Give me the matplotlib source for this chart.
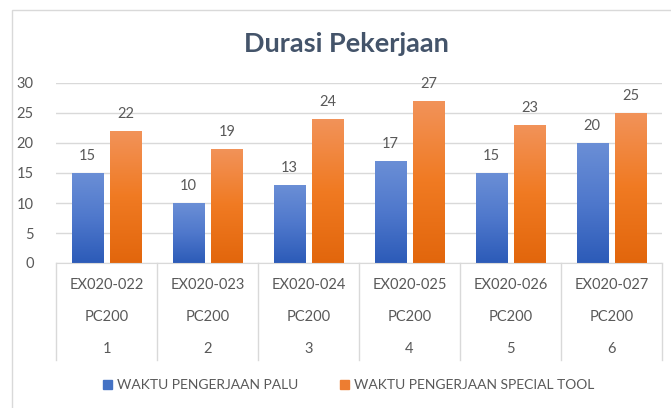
import matplotlib
matplotlib.use("Agg")
import matplotlib.pyplot as plt
import numpy as np
from matplotlib.patches import Rectangle, Patch
from matplotlib.colors import LinearSegmentedColormap
import matplotlib.transforms as mtransforms

codes = ["EX020-022", "EX020-023", "EX020-024", "EX020-025", "EX020-026", "EX020-027"]
models = ["PC200"] * 6
numbers = ["1", "2", "3", "4", "5", "6"]
palu = [15, 10, 13, 17, 15, 20]
special = [22, 19, 24, 27, 23, 25]
series_names = ["WAKTU PENGERJAAN PALU", "WAKTU PENGERJAAN SPECIAL TOOL"]
title = "Durasi Pekerjaan"
yticks = [0, 5, 10, 15, 20, 25, 30]

plt.rcParams['font.family'] = ['Lato', 'DejaVu Sans']
W, H = 671, 408
fig = plt.figure(figsize=(W/100, H/100), dpi=100)
fig.patch.set_facecolor("white")

# chart area border
fig.patches.append(Rectangle((12/W, -0.1), 1.0, 1 - 10/H + 0.1, transform=fig.transFigure,
                             fill=False, edgecolor="#D9D9D9", linewidth=1.0))

ax = fig.add_axes([56/W, 1 - 263/H, (662-56)/W, (263-83)/H])
x = np.arange(len(codes))
bw = 0.31
off = 0.19
tick_col = "#595959"

blue_cmap = LinearSegmentedColormap.from_list("b", ["#2C5BB8", "#4F78CC", "#6B8FD6"])
orange_cmap = LinearSegmentedColormap.from_list("o", ["#E2660C", "#F07A22", "#F2935A"])

b1 = ax.bar(x - off, palu, bw, color="#4472C4", zorder=2)
b2 = ax.bar(x + off, special, bw, color="#ED7D31", zorder=2)

grad = np.linspace(0, 1, 256).reshape(-1, 1)
for bars, cmap in ((b1, blue_cmap), (b2, orange_cmap)):
    for bar in bars:
        bx, by = bar.get_x(), bar.get_y()
        bwid, bh = bar.get_width(), bar.get_height()
        im = ax.imshow(grad, cmap=cmap, origin="lower", aspect="auto",
                       extent=(bx, bx + bwid, by, by + bh), zorder=3)
        im.set_clip_path(bar)

for xs, vals in ((x - off, palu), (x + off, special)):
    for xi, v in zip(xs, vals):
        ax.annotate(str(v), (xi, v), xytext=(0, 7), textcoords="offset points",
                    ha="center", va="bottom", fontsize=10.5, color=tick_col)

ax.set_xlim(-0.5, len(codes) - 0.5)
ax.set_ylim(0, 30)
ax.set_yticks(yticks)
ax.tick_params(axis="y", length=0, pad=16, labelsize=10.5, labelcolor=tick_col)
ax.set_xticks([])
ax.grid(axis="y", color="#D9D9D9", linewidth=1, zorder=0)
ax.set_axisbelow(True)
for s in ["top", "right", "left"]:
    ax.spines[s].set_visible(False)
ax.spines["bottom"].set_color("#D9D9D9")
ax.spines["bottom"].set_zorder(4)

# multi-level category labels
trans = mtransforms.blended_transform_factory(ax.transData, fig.transFigure)
for i in range(len(codes)):
    ax.text(x[i], 1 - 285/H, codes[i], transform=trans, ha="center", va="center",
            fontsize=10.5, color=tick_col)
    ax.text(x[i], 1 - 317/H, models[i], transform=trans, ha="center", va="center",
            fontsize=10.5, color=tick_col)
    ax.text(x[i], 1 - 349/H, numbers[i], transform=trans, ha="center", va="center",
            fontsize=10.5, color=tick_col)
for b in np.arange(-0.5, len(codes), 1.0):
    ax.plot([b, b], [1 - 263/H, 1 - 360/H], transform=trans, color="#D9D9D9",
            linewidth=1, clip_on=False)

fig.text(346/W, 1 - 44/H, title, ha="center", va="center", fontsize=19.5,
         fontweight="bold", color="#44546A")

handles = [Patch(color="#4472C4"), Patch(color="#ED7D31")]
fig.legend(handles, series_names, loc="center", bbox_to_anchor=(0.52, 1 - 385/H),
           ncol=2, frameon=False, fontsize=10, labelcolor=tick_col,
           handlelength=0.6, handleheight=0.6, handletextpad=0.4, columnspacing=3.0)

fig.savefig("out.png", dpi=100, facecolor="white")
